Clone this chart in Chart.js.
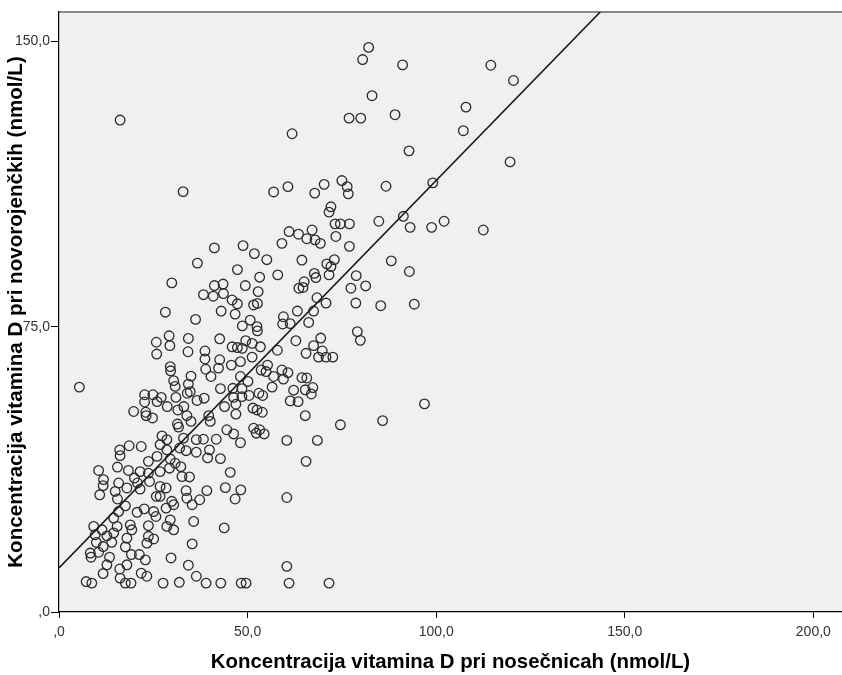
<!DOCTYPE html>
<html>
<head>
    <title>Vitamin D - scatter</title>
    <script src="https://cdn.jsdelivr.net/npm/chart.js"></script>
    <style>
        body { margin: 0; background: #fff; }
        .chart-container { width: 842px; height: 675px; }
    </style>
</head>
<body>
    <div class="chart-container">
        <canvas id="vitd-chart" width="842" height="675"></canvas>
    </div>

    <script>
        // mother (x) and newborn (y) vitamin D, nmol/L
        const momVitD = [
            16.2, 32.9, 56.9, 60.7, 61.8, 82.1, 80.5, 91.1, 114.5, 120.5,
            83.0, 76.9, 80.0, 89.1, 107.9, 107.2, 92.8, 119.6, 99.1, 86.7,
            70.3, 67.8, 75.0, 76.4, 76.7, 72.1, 71.6, 73.2, 74.6, 77.0,
            84.8, 91.3, 102.1, 93.1, 98.8, 112.5, 67.1,
            61.0, 63.5, 48.8, 41.2, 59.1, 51.8, 55.1, 36.7, 47.3, 53.2,
            58.0, 29.9, 41.2, 43.5, 49.4, 38.3, 40.9, 43.6, 52.8, 63.6,
            45.9, 47.3, 51.6, 52.6, 28.2, 36.2, 43.0, 46.7, 63.2, 50.7,
            48.6, 52.5, 52.6, 59.5, 59.3, 61.3, 29.2, 25.8, 29.4, 34.3,
            42.6, 49.5, 51.2, 53.4, 45.9, 47.3, 48.6, 62.8, 57.9, 25.9,
            34.2, 38.7, 38.7, 38.9, 42.6, 42.3, 48.1, 45.7, 51.2, 55.3,
            53.6, 54.9, 59.1, 60.7, 29.5, 29.6, 35.0, 40.3, 48.1, 56.9,
            59.5, 5.4, 30.4, 30.8, 34.3, 42.8, 46.1, 48.5, 50.1, 56.5,
            62.2, 22.7, 24.9, 27.1, 31.0, 34.0, 34.8, 36.6, 38.5, 46.3,
            48.5, 50.4, 53.0, 54.0, 61.3, 63.4, 22.7, 26.0, 28.7, 33.1,
            43.9, 46.9, 19.8, 23.0, 23.1, 24.8, 31.5, 33.9, 39.7, 46.9,
            51.4, 52.5, 53.9, 31.4, 35.0, 40.1,
            65.7, 67.9, 69.3, 73.4, 77.0, 88.1, 92.9, 64.4, 71.0, 73.0,
            72.1, 67.7, 68.1, 71.6, 78.8, 65.0, 64.7, 77.4, 81.3, 68.4,
            70.8, 78.7, 85.3, 94.2, 67.5, 66.2, 79.1, 79.9, 69.4, 67.5,
            69.8, 65.5, 68.8, 70.8, 72.6, 64.4, 65.7, 65.3, 67.3, 66.9,
            96.9, 65.3, 85.8, 74.6, 68.5, 65.5, 71.6,
            51.6, 53.2, 54.4, 52.3, 44.5, 46.3, 48.1, 41.7, 60.4, 38.3,
            36.4, 33.0, 28.6, 27.3, 31.7, 18.6, 21.8, 16.1, 16.2, 26.8,
            28.6, 32.0, 33.7, 36.4, 39.9, 39.4, 42.8, 26.0, 23.7, 29.5,
            30.8, 32.3, 10.5, 15.5, 18.4, 21.5, 23.7, 26.8, 29.3, 32.6,
            34.6, 45.4, 11.8, 11.7, 10.8, 15.8, 20.0, 20.8, 21.5, 18.0,
            14.9, 15.5, 24.0, 26.8, 28.4, 26.8, 25.8, 29.9, 33.7, 33.9,
            35.3, 37.3, 39.2, 44.1, 46.7, 48.2, 60.4, 17.6, 20.7, 22.6,
            25.1, 28.4, 30.4, 15.8, 14.5, 18.9, 15.4, 9.2, 11.4, 23.7,
            25.7, 28.6, 29.5, 30.4, 35.7, 43.8, 9.6, 12.7, 14.5, 18.0,
            19.3, 14.0, 9.9, 11.7, 17.6, 23.7, 25.1, 23.3, 35.3, 8.3,
            8.5, 10.5, 13.4, 12.7, 19.2, 21.3, 22.9, 18.0, 16.1, 11.7,
            29.7, 34.3, 36.4, 60.4, 21.8, 23.3, 16.2, 7.2, 8.7, 17.6,
            19.1, 27.6, 31.9, 39.0, 42.9, 48.3, 49.6, 61.0
        ];
        const babyVitD = [
            129.3, 110.5, 110.4, 111.8, 125.7, 148.4, 145.2, 143.8, 143.7, 139.7,
            135.7, 129.8, 129.8, 130.7, 132.7, 126.5, 121.2, 118.3, 112.8, 111.9,
            112.4, 110.1, 113.4, 111.8, 109.9, 106.5, 105.1, 102.0, 102.0, 102.0,
            102.7, 104.0, 102.7, 101.1, 101.1, 100.4, 100.4,
            100.0, 99.3, 96.3, 95.7, 96.9, 94.2, 92.6, 91.7, 90.0, 88.0,
            88.6, 86.5, 85.8, 86.2, 85.8, 83.4, 83.0, 83.7, 84.2, 85.1,
            82.0, 81.0, 80.7, 81.1, 78.8, 76.9, 79.1, 78.3, 79.1, 76.7,
            75.2, 75.0, 73.9, 77.6, 75.7, 75.8, 72.6, 70.9, 70.0, 71.9,
            71.8, 71.3, 70.6, 69.7, 69.7, 69.5, 69.3, 71.3, 68.8, 67.8,
            68.4, 68.6, 66.5, 63.8, 66.3, 64.1, 65.8, 64.9, 67.0, 64.9,
            63.6, 63.2, 63.6, 62.9, 64.5, 63.4, 62.0, 61.9, 61.9, 61.9,
            61.2, 59.1, 60.8, 59.3, 59.9, 58.7, 58.8, 58.7, 60.6, 59.1,
            58.3, 57.1, 57.1, 56.4, 56.4, 57.5, 57.9, 55.6, 56.2, 56.4,
            56.6, 56.9, 57.5, 56.9, 55.5, 55.3, 55.2, 55.3, 54.0, 54.0,
            54.0, 54.6, 52.7, 52.5, 51.6, 51.0, 53.1, 51.6, 51.6, 52.0,
            53.6, 53.1, 52.5, 49.4, 50.1, 50.1,
            98.1, 97.8, 96.9, 98.7, 96.1, 92.3, 89.5, 92.5, 91.5, 92.6,
            90.8, 89.0, 87.9, 88.6, 88.4, 86.8, 85.3, 85.1, 85.7, 82.6,
            81.2, 81.2, 80.5, 80.9, 79.1, 76.1, 73.7, 71.4, 72.0, 70.0,
            68.6, 68.0, 67.0, 67.0, 67.0, 61.6, 61.5, 58.4, 59.0, 57.3,
            54.7, 51.6, 50.3, 49.2, 45.1, 39.6, 7.6,
            48.3, 47.9, 46.8, 47.0, 47.9, 46.8, 44.5, 45.4, 45.1, 45.4,
            45.3, 45.7, 45.3, 46.3, 48.6, 43.7, 43.5, 42.6, 41.1, 44.0,
            42.6, 43.1, 42.4, 42.0, 42.6, 40.5, 40.3, 40.9, 39.6, 40.2,
            39.1, 38.2, 37.2, 38.1, 37.2, 36.9, 36.5, 36.9, 37.8, 35.6,
            35.5, 36.7, 34.8, 33.2, 30.8, 33.9, 35.2, 33.9, 32.3, 32.6,
            31.7, 29.7, 34.3, 33.0, 32.6, 30.4, 30.4, 29.1, 31.9, 29.9,
            28.2, 29.5, 31.9, 32.7, 29.7, 32.1, 30.1, 27.9, 26.2, 27.1,
            26.4, 27.3, 28.2, 26.4, 24.7, 22.9, 22.5, 22.5, 21.6, 22.7,
            25.1, 22.5, 24.2, 21.6, 23.8, 22.1, 20.3, 20.0, 20.8, 19.4,
            21.6, 18.3, 18.3, 17.2, 17.1, 19.9, 19.2, 18.1, 17.9, 15.5,
            14.4, 15.7, 14.4, 12.4, 15.1, 15.1, 13.7, 12.4, 11.3, 10.1,
            14.2, 12.3, 9.4, 12.0, 10.2, 9.4, 8.9, 8.0, 7.6, 7.6,
            7.6, 7.6, 7.8, 7.6, 7.6, 7.6, 7.6, 7.6
        ];

        // fitted regression line (ends where it leaves the plot)
        const fitX = [0, 143.5];
        const fitY = [11.6, 157.7];

        const xTicks = [0, 50, 100, 150, 200];
        const xTickLabels = [',0', '50,0', '100,0', '150,0', '200,0'];
        const yTicks = [0, 75, 150];
        const yTickLabels = [',0', '75,0', '150,0'];

        const fontFamily = '"Liberation Sans", Arial, sans-serif';

        // grey plot background + top frame line
        const plotBackground = {
            id: 'plotBackground',
            beforeDraw(chart) {
                const { ctx, chartArea: a } = chart;
                ctx.save();
                ctx.fillStyle = '#f0f0f0';
                ctx.fillRect(a.left, a.top, a.right - a.left, a.bottom - a.top);
                ctx.strokeStyle = '#8a8a8a';
                ctx.lineWidth = 2;
                ctx.beginPath();
                ctx.moveTo(a.left, a.top);
                ctx.lineTo(a.right, a.top);
                ctx.stroke();
                ctx.restore();
            }
        };

        const ctx = document.getElementById('vitd-chart').getContext('2d');
        new Chart(ctx, {
            type: 'scatter',
            data: {
                datasets: [{
                    type: 'line',
                    data: fitX.map((x, i) => ({ x: x, y: fitY[i] })),
                    borderColor: '#1a1a1a',
                    borderWidth: 1.6,
                    pointRadius: 0,
                    fill: false,
                    order: 0
                },
                {
                    data: momVitD.map((x, i) => ({ x: x, y: babyVitD[i] })),
                    backgroundColor: 'rgba(0,0,0,0)',
                    borderColor: '#2b2b2b',
                    pointRadius: 4.8,
                    pointBorderWidth: 1.3,
                    order: 1
                }]
            },
            options: {
                responsive: false,
                animation: false,
                layout: { autoPadding: false, padding: { top: 12, left: 0, right: 0, bottom: 0 } },
                plugins: {
                    legend: { display: false },
                    tooltip: { enabled: false }
                },
                scales: {
                    x: {
                        type: 'linear',
                        min: 0,
                        max: 207.6,
                        afterBuildTicks: s => { s.ticks = xTicks.map(v => ({ value: v })); },
                        afterFit: s => { s.height = 63; },
                        ticks: {
                            callback: v => xTickLabels[xTicks.indexOf(v)],
                            font: { family: fontFamily, size: 14 },
                            color: '#333',
                            padding: 6,
                            maxRotation: 0
                        },
                        grid: { drawOnChartArea: false, drawTicks: true, tickLength: 6, color: '#000' },
                        border: { color: '#000', width: 1.2 },
                        title: {
                            display: true,
                            text: 'Koncentracija vitamina D pri nosečnicah (nmol/L)',
                            font: { family: fontFamily, size: 20.4, weight: 'bold' },
                            color: '#000',
                            padding: { top: 0, bottom: 0 }
                        }
                    },
                    y: {
                        type: 'linear',
                        min: 0,
                        max: 157.7,
                        afterBuildTicks: s => { s.ticks = yTicks.map(v => ({ value: v })); },
                        afterFit: s => { s.width = 59; },
                        ticks: {
                            callback: v => yTickLabels[yTicks.indexOf(v)],
                            font: { family: fontFamily, size: 14 },
                            color: '#333',
                            padding: 1
                        },
                        grid: { drawOnChartArea: false, drawTicks: true, tickLength: 8, color: '#000' },
                        border: { color: '#000', width: 1.2 },
                        title: {
                            display: true,
                            text: 'Koncentracija vitamina D pri novorojenčkih (nmol/L)',
                            font: { family: fontFamily, size: 20.6, weight: 'bold' },
                            color: '#000',
                            padding: { top: 4, bottom: 0 }
                        }
                    }
                }
            },
            plugins: [plotBackground]
        });
    </script>
</body>
</html>
